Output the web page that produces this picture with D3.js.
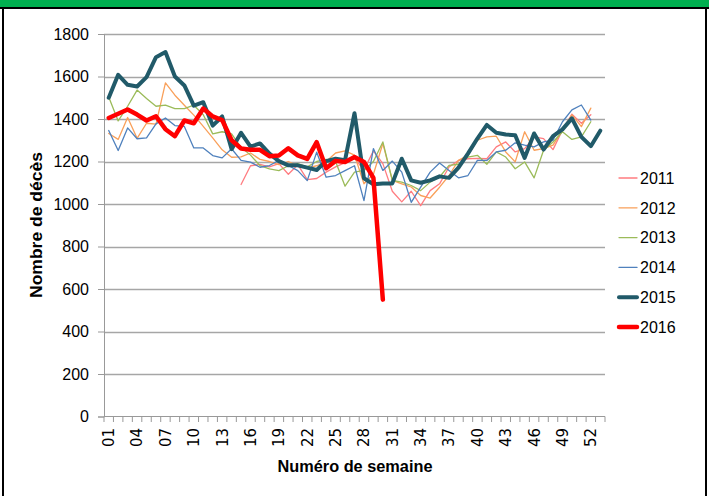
<!DOCTYPE html>
<html>
<head>
<meta charset="utf-8">
<script src="https://cdn.jsdelivr.net/npm/d3@7"></script>
<style>
  body { margin: 0; background: #fff; }
</style>
</head>
<body>
<div id="chart"></div>
<script>
// weeks 01..53 (2015 has 53 weeks)
var weeks = d3.range(1, 54).map(function(i) { return (i < 10 ? "0" : "") + i; });
var tickWeeks = weeks.filter(function(d, i) { return i % 3 == 0 && i < 52; });
var yTicks = [0, 200, 400, 600, 800, 1000, 1200, 1400, 1600, 1800];

var years = ["2011", "2012", "2013", "2014", "2015", "2016"];

var v2011 = [null, null, null, null, null, null, null, null, null, null, null, null, null, null,
  1092, 1180, 1186, 1175, 1190, 1140, 1185, 1115, 1120, 1150, 1175, 1195, 1215, 1160, 1250, 1190,
  1060, 1010, 1060, 992, 1063, 1095, 1174, 1205, 1213, 1215, 1213, 1269, 1292, 1245, 1261, 1316,
  1308, 1256, 1348, 1423, 1380, 1420];
var v2012 = [1332, 1304, 1407, 1309, 1380, 1376, 1570, 1512, 1465, 1418, 1365, 1311, 1255, 1220,
  1222, 1240, 1210, 1200, 1185, 1200, 1180, 1170, 1180, 1200, 1240, 1250, 1230, 1095, 1140, 1285,
  1111, 1095, 1080, 1040, 1028, 1079, 1134, 1205, 1229, 1300, 1316, 1319, 1245, 1198, 1340, 1253,
  1261, 1277, 1348, 1419, 1364, 1451];
var v2013 = [1504, 1391, 1460, 1536, 1497, 1460, 1465, 1449, 1449, 1465, 1420, 1330, 1340, 1330,
  1267, 1230, 1181, 1165, 1157, 1180, 1190, 1175, 1200, 1210, 1200, 1084, 1150, 1158, 1200, 1292,
  1111, 1103, 1087, 1063, 1103, 1127, 1182, 1187, 1221, 1229, 1187, 1245, 1221, 1166, 1198, 1123,
  1253, 1292, 1340, 1304, 1316, 1387];
var v2014 = [1346, 1252, 1358, 1307, 1311, 1377, 1405, 1369, 1365, 1264, 1264, 1228, 1217, 1260,
  1205, 1197, 1173, 1181, 1205, 1181, 1157, 1110, 1244, 1126, 1134, 1157, 1180, 1016, 1261, 1158,
  1202, 1150, 1008, 1079, 1150, 1193, 1158, 1123, 1134, 1205, 1205, 1245, 1253, 1288, 1277, 1269,
  1292, 1300, 1387, 1443, 1466, 1395];
var v2015 = [1500, 1608, 1561, 1553, 1597, 1691, 1715, 1600, 1558, 1463, 1479, 1369, 1412, 1258,
  1335, 1270, 1285, 1237, 1202, 1182, 1182, 1171, 1160, 1202, 1213, 1206, 1427, 1121, 1093, 1097,
  1097, 1213, 1111, 1100, 1111, 1130, 1123, 1171, 1237, 1308, 1372, 1335, 1327, 1324, 1217, 1332,
  1256, 1319, 1351, 1403, 1316, 1272, 1345];
var v2016 = [1405, 1425, 1445, 1421, 1393, 1413, 1352, 1319, 1393, 1380, 1449, 1412, 1395, 1300,
  1261, 1255, 1255, 1225, 1228, 1262, 1229, 1212, 1291, 1168, 1203, 1198, 1221, 1198, 1123, 550];

var colors = ["#ff7c80", "#f9a05a", "#9bbb59", "#4f81bd", "#215a69", "#ff0000"];
var widths = [1.3, 1.3, 1.3, 1.3, 4, 4.5];

var series = [v2011, v2012, v2013, v2014, v2015, v2016].map(function(vals, i) {
  return { year: years[i], color: colors[i], width: widths[i], values: vals };
});

var W = 709, H = 496;
var svg = d3.select("#chart").append("svg")
  .attr("width", W)
  .attr("height", H);

// frame: green band on top, black border
svg.append("rect").attr("x", 0).attr("y", 0).attr("width", W).attr("height", 7).attr("fill", "#00b050");
svg.append("line").attr("x1", 0).attr("x2", W).attr("y1", 8).attr("y2", 8).attr("stroke", "#000").attr("stroke-width", 2);
svg.append("line").attr("x1", 3).attr("x2", 3).attr("y1", 7).attr("y2", H).attr("stroke", "#000").attr("stroke-width", 2);
svg.append("line").attr("x1", 706).attr("x2", 706).attr("y1", 7).attr("y2", H).attr("stroke", "#000").attr("stroke-width", 2);

var xScale = d3.scaleBand()
  .domain(weeks)
  .range([104, 605])
  .padding(0);
var yScale = d3.scaleLinear()
  .domain([0, 1800])
  .range([416.5, 34]);

// gridlines
svg.append("g")
  .attr("class", "grid")
  .selectAll("line")
  .data(yTicks.slice(1))
  .enter()
  .append("line")
  .attr("x1", 104)
  .attr("x2", 605)
  .attr("y1", function(d) { return Math.round(yScale(d)) + 0.5; })
  .attr("y2", function(d) { return Math.round(yScale(d)) + 0.5; })
  .attr("stroke", "#a6a6a6")
  .attr("stroke-width", 1.3);

// y axis
var yAxis = d3.axisLeft(yScale)
  .tickValues(yTicks)
  .tickFormat(d3.format("d"))
  .tickSize(6)
  .tickPadding(9);
var gy = svg.append("g")
  .attr("class", "y-axis")
  .attr("transform", "translate(104,0)")
  .call(yAxis);
gy.select(".domain").attr("stroke", "#999");
gy.selectAll(".tick line").attr("stroke", "#999");
gy.selectAll("text")
  .attr("font-family", "Liberation Sans, Arial, sans-serif")
  .attr("font-size", 16)
  .attr("fill", "#000");

// x axis
var gx = svg.append("g").attr("class", "x-axis");
gx.append("line")
  .attr("x1", 104).attr("x2", 605)
  .attr("y1", 416.5).attr("y2", 416.5)
  .attr("stroke", "#999");
gx.selectAll(".xtick")
  .data(weeks.concat(["end"]))
  .enter()
  .append("line")
  .attr("class", "xtick")
  .attr("x1", function(d) { return d == "end" ? 605 : xScale(d); })
  .attr("x2", function(d) { return d == "end" ? 605 : xScale(d); })
  .attr("y1", 416.5)
  .attr("y2", 422)
  .attr("stroke", "#999");
gx.selectAll(".xlabel")
  .data(tickWeeks)
  .enter()
  .append("text")
  .attr("class", "xlabel")
  .attr("transform", function(d) {
    return "translate(" + (xScale(d) + xScale.bandwidth() / 2) + ",428)rotate(-90)";
  })
  .attr("text-anchor", "end")
  .attr("dy", "0.36em")
  .attr("font-family", "DejaVu Sans, sans-serif")
  .attr("font-size", 15)
  .attr("fill", "#000")
  .text(function(d) { return d; });

// lines
var line = d3.line()
  .defined(function(d) { return d.v != null; })
  .x(function(d) { return xScale(d.w) + xScale.bandwidth() / 2; })
  .y(function(d) { return yScale(d.v); });

svg.append("g")
  .selectAll("path")
  .data(series)
  .enter()
  .append("path")
  .attr("fill", "none")
  .attr("stroke", function(d) { return d.color; })
  .attr("stroke-width", function(d) { return d.width; })
  .attr("stroke-linejoin", "round")
  .attr("stroke-linecap", "round")
  .attr("d", function(d) {
    return line(d.values.map(function(v, i) { return { w: weeks[i], v: v }; }));
  });

// legend
var legend = svg.append("g")
  .selectAll("g")
  .data(series)
  .enter()
  .append("g")
  .attr("transform", function(d, i) { return "translate(0," + (178 + i * 29.8) + ")"; });
legend.append("line")
  .attr("x1", 619).attr("x2", 637)
  .attr("y1", 0).attr("y2", 0)
  .attr("stroke", function(d) { return d.color; })
  .attr("stroke-width", function(d) { return d.width; })
  .attr("stroke-linecap", "round");
legend.append("text")
  .attr("x", 640)
  .attr("dy", "0.36em")
  .attr("font-family", "Liberation Sans, Arial, sans-serif")
  .attr("font-size", 16)
  .attr("fill", "#000")
  .text(function(d) { return d.year; });

// axis titles
svg.append("text")
  .attr("text-anchor", "middle")
  .attr("transform", "translate(42,225)rotate(-90)")
  .attr("font-family", "Liberation Sans, Arial, sans-serif")
  .attr("font-weight", "bold")
  .attr("font-size", 17)
  .attr("textLength", 146)
  .attr("lengthAdjust", "spacingAndGlyphs")
  .text("Nombre de décès");
svg.append("text")
  .attr("text-anchor", "middle")
  .attr("x", 355)
  .attr("y", 472)
  .attr("font-family", "Liberation Sans, Arial, sans-serif")
  .attr("font-weight", "bold")
  .attr("font-size", 17)
  .attr("textLength", 155)
  .attr("lengthAdjust", "spacingAndGlyphs")
  .text("Numéro de semaine");
</script>
</body>
</html>
